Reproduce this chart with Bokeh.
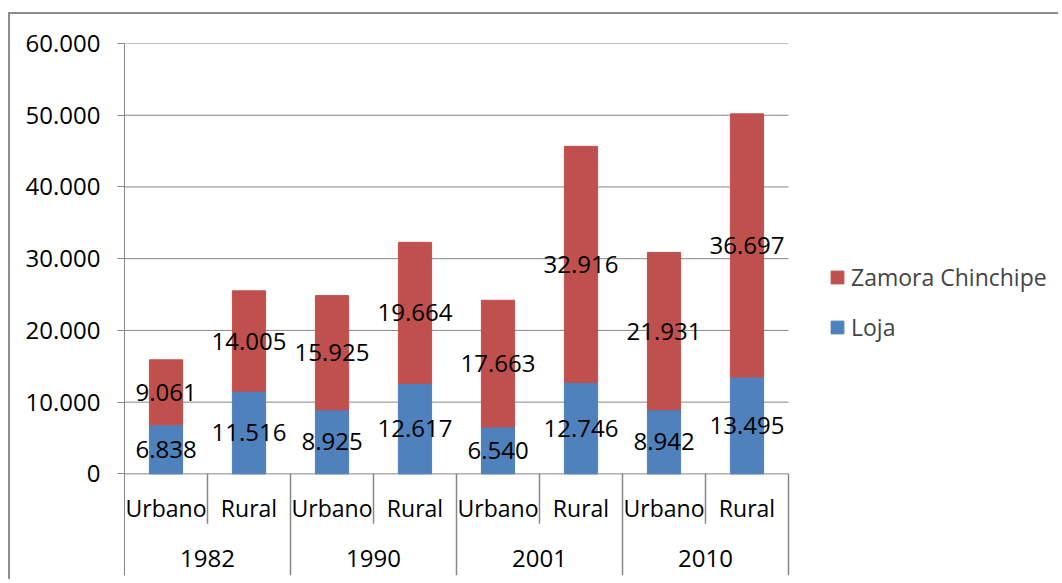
from bokeh.plotting import figure
from bokeh.models import Range1d, FixedTicker, Legend, LegendItem, ColumnDataSource
from bokeh.core.properties import value
from bokeh.embed import file_html
from bokeh.resources import INLINE

years = ["1982", "1990", "2001", "2010"]
areas = ["Urbano", "Rural"]
loja = [6838, 11516, 8925, 12617, 6540, 12746, 8942, 13495]
zamora = [9061, 14005, 15925, 19664, 17663, 32916, 21931, 36697]
y_ticks = [0, 10000, 20000, 30000, 40000, 50000, 60000]
y_tick_labels = ["0", "10.000", "20.000", "30.000", "40.000", "50.000", "60.000"]

FONT = "Open Sans"
FS = "23px"
FS_NUM = "24px"
GRAY = "#878787"
BLUE = "#4F81BD"
RED = "#C0504D"

def fmt(v):
    return f"{v:,}".replace(",", ".")

n = len(loja)
xs = [i + 0.5 for i in range(n)]
tops = [a + b for a, b in zip(loja, zamora)]
src = ColumnDataSource(dict(
    x=xs, loja=loja, zamora=zamora, top=tops,
    loja_mid=[v / 2 for v in loja],
    zam_mid=[a + b / 2 for a, b in zip(loja, zamora)],
    loja_lab=[fmt(v) for v in loja],
    zam_lab=[fmt(v) for v in zamora],
))

W, H = 1050, 567
px_per_cat = 83.0
frame_w = W - 114
p = figure(width=W, height=H, output_backend="svg", toolbar_location=None,
           x_range=Range1d(0, frame_w / px_per_cat),
           y_range=Range1d(-14170, 60000),
           min_border_left=114, min_border_top=29, min_border_right=0,
           min_border_bottom=6)
p.styles = {"border-top": "2px solid #8d8d8d", "border-left": "2px solid #8d8d8d",
            "margin": "12px 0px 0px 8px"}
p.outline_line_color = None
p.xaxis.visible = False
p.xgrid.visible = False
p.ygrid.visible = False

ax = p.yaxis[0]
ax.ticker = FixedTicker(ticks=y_ticks)
ax.major_label_overrides = {t: l for t, l in zip(y_ticks, y_tick_labels)}
ax.major_label_text_font = FONT
ax.major_label_text_font_size = FS_NUM
ax.major_label_text_color = "black"
ax.axis_line_color = GRAY
ax.major_tick_line_color = GRAY
ax.major_tick_out = 7
ax.major_tick_in = 0
ax.minor_tick_line_color = None
ax.major_label_standoff = 17

# gridlines across the category area only
p.segment(x0=[0] * len(y_ticks), x1=[n] * len(y_ticks), y0=y_ticks, y1=y_ticks,
          line_color=GRAY, line_width=1)

r_loja = p.vbar(x="x", bottom=0, top="loja", width=0.4, source=src,
                fill_color=BLUE, line_color=BLUE)
r_zam = p.vbar(x="x", bottom="loja", top="top", width=0.4, source=src,
               fill_color=RED, line_color=RED)

p.text(x="x", y="loja_mid", text="loja_lab", source=src, text_align="center",
       text_baseline="middle", text_font=value(FONT), text_font_size=FS_NUM, text_color="black")
p.text(x="x", y="zam_mid", text="zam_lab", source=src, text_align="center",
       text_baseline="middle", text_font=value(FONT), text_font_size=FS_NUM, text_color="black")

# category labels (nested)
sub_labels = [areas[i % 2] for i in range(n)]
p.text(x=xs, y=[-4720] * n, text=sub_labels, text_align="center", text_baseline="middle",
       text_font=value(FONT), text_font_size=FS, text_color="black")
p.text(x=[2 * g + 1 for g in range(len(years))], y=[-11800] * len(years), text=years,
       text_align="center", text_baseline="middle",
       text_font=value(FONT), text_font_size=FS_NUM, text_color="black")
inner = [2 * g + 1 for g in range(len(years))]
p.segment(x0=inner, x1=inner, y0=[0] * len(inner), y1=[-6950] * len(inner),
          line_color=GRAY, line_width=1.5)
outer = [2 * g for g in range(1, len(years) + 1)]
p.segment(x0=outer, x1=outer, y0=[0] * len(outer), y1=[-14170] * len(outer),
          line_color=GRAY, line_width=1.5)

legend = Legend(items=[LegendItem(label="Zamora Chinchipe", renderers=[r_zam]),
                       LegendItem(label="Loja", renderers=[r_loja])],
                location=(705, 232), border_line_color=None, background_fill_alpha=0,
                padding=0, margin=0, glyph_width=16, glyph_height=16,
                label_standoff=6, spacing=18,
                label_text_font=FONT, label_text_font_size=FS)
p.add_layout(legend)

open("out.html", "w").write(file_html(p, INLINE))
